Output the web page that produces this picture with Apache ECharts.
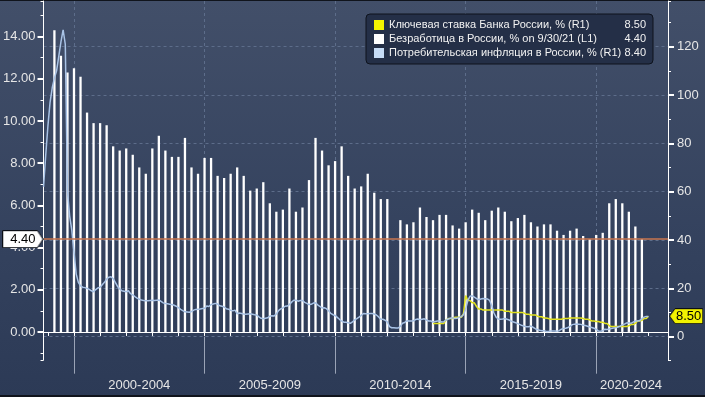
<!DOCTYPE html>
<html>
<head>
<meta charset="utf-8">
<script src="https://cdn.jsdelivr.net/npm/echarts@6/dist/echarts.min.js"></script>
<style>
html, body { margin: 0; padding: 0; background: #2c3a56; }
#chart {
  width: 705px; height: 397px;
  background: linear-gradient(to bottom, #424f69 0%, #34425e 60%, #2c3a56 100%);
  box-shadow: inset 0 1px 0 #10141c, inset 0 -2px 0 #10141c;
}
</style>
</head>
<body>
<div id="chart"></div>
<script>
// ось X: месяцы с 1998-10 по 2022-09
const firstMonth = [1998, 10];
const monthCount = 288;
const months = [];
for (let i = 0; i < monthCount; i++) {
  const m = firstMonth[1] - 1 + i;
  const y = firstMonth[0] + Math.floor(m / 12);
  const mm = m % 12 + 1;
  months.push(y + '-' + (mm < 10 ? '0' + mm : mm));
}

// подписи пятилетних интервалов
const bandLabels = ['2000-2004', '2005-2009', '2010-2014', '2015-2019', '2020-2024'];
const bandLabelMonths = ['2002-06', '2007-06', '2012-06', '2017-06', '2021-04'];
const bandStarts = ['1999-12', '2004-12', '2009-12', '2014-12', '2019-12'];

// Потребительская инфляция, % г/г (помесячно с 1998-10)
const inflationStart = '1998-10';
const inflation = [
  62, 75, 87,
  97, 103, 107, 110, 116, 122, 127, 121, 60, 50, 44, 35,
  26, 22.5, 21, 20.5, 20.3, 20, 19.6, 19, 18.6, 19.5, 20.2, 20.5,
  21.5, 22.5, 23.8, 24.6, 24.8, 24, 22.5, 20.8, 19.8, 19, 18.8, 18.6,
  19, 17.8, 17.3, 16.6, 16, 15.5, 15.2, 15, 14.9, 14.9, 15, 15.1,
  15, 15.1, 15.2, 14.6, 14, 13.7, 13.6, 13.4, 13.3, 13, 12.6, 12,
  11.3, 10.8, 10.3, 10.2, 10.1, 10.4, 11, 11.3, 11.4, 11.5, 11.7, 11.7,
  12.7, 12.5, 13.3, 13.5, 13.8, 13.5, 12.8, 12.6, 12.3, 11.6, 11.4, 10.9,
  10.7, 11, 9.5, 9.8, 9.6, 9.4, 9.3, 9.4, 9.5, 9.3, 9.1, 9,
  8.2, 7.6, 7.4, 7.6, 7.8, 8.5, 8.7, 8.6, 9.4, 10.8, 11.5, 11.9,
  12.6, 12.7, 13.3, 14.3, 15.1, 15.1, 14.7, 15, 15, 14.2, 13.8, 13.3,
  13.4, 13.9, 14, 13.2, 12.5, 11.9, 12, 11.6, 10.7, 9.7, 9.1, 8.8,
  8, 7.2, 6.5, 6, 6, 5.8, 5.5, 6.1, 7, 7.5, 8.1, 8.8,
  9.6, 9.5, 9.5, 9.6, 9.6, 9.4, 9, 8.2, 7.2, 7.2, 6.8, 6.1,
  4.2, 3.7, 3.7, 3.6, 3.6, 4.3, 5.6, 5.9, 6.6, 6.5, 6.5, 6.6,
  7.1, 7.3, 7, 7.2, 7.4, 6.9, 6.5, 6.5, 6.1, 6.3, 6.5, 6.5,
  6.1, 6.2, 6.9, 7.3, 7.6, 7.8, 7.5, 7.6, 8, 8.3, 9.1, 11.4,
  15, 16.7, 16.9, 16.4, 15.8, 15.3, 15.6, 15.8, 15.7, 15.6, 15, 12.9,
  9.8, 8.1, 7.3, 7.2, 7.3, 7.5, 7.2, 6.9, 6.4, 6.1, 5.8, 5.4,
  5, 4.6, 4.3, 4.1, 4.1, 4.4, 3.9, 3.3, 3, 2.7, 2.5, 2.5,
  2.2, 2.2, 2.4, 2.4, 2.4, 2.3, 2.5, 3.1, 3.4, 3.5, 3.8, 4.3,
  5, 5.2, 5.3, 5.2, 5.1, 4.7, 4.6, 4.3, 4, 3.8, 3.5, 3,
  2.4, 2.3, 2.5, 3.1, 3, 3.2, 3.4, 3.6, 3.7, 4, 4.4, 4.9,
  5.2, 5.7, 5.8, 5.5, 6, 6.5, 6.5, 6.7, 7.4, 8.1, 8.4, 8.4
];

// Ключевая ставка ЦБ, % (помесячно с 2013-09)
const keyRateStart = '2013-09';
const keyRate = [
  5.5, 5.5, 5.5, 5.5,
  5.5, 5.5, 7, 7.5, 7.5, 7.5, 8, 8, 8, 8, 9.5, 17,
  15, 15, 14, 14, 12.5, 11.5, 11.5, 11, 11, 11, 11, 11,
  11, 11, 11, 11, 11, 10.5, 10.5, 10.5, 10, 10, 10, 10,
  10, 10, 9.75, 9.25, 9.25, 9, 9, 9, 8.5, 8.25, 8.25, 7.75,
  7.75, 7.5, 7.25, 7.25, 7.25, 7.25, 7.25, 7.25, 7.5, 7.5, 7.5, 7.75,
  7.75, 7.75, 7.75, 7.75, 7.75, 7.5, 7.25, 7.25, 7, 6.5, 6.5, 6.25,
  6.25, 6, 6, 5.5, 5.5, 4.5, 4.25, 4.25, 4.25, 4.25, 4.25, 4.25,
  4.25, 4.25, 4.5, 5, 5, 5.5, 6.5, 6.5, 6.75, 7.5, 7.5, 8.5
];

// Безработица, % (поквартально с 1 кв. 1999, конец квартала)
const unempStart = '1999-03';
const unemployment = [
  14.3, 13.1, 12.3, 12.5,
  12.1, 10.4, 9.9, 9.9,
  9.8, 8.8, 8.6, 8.7,
  8.4, 7.8, 7.5, 8.7,
  9.3, 8.6, 8.3, 8.3,
  9.2, 7.8, 7.5, 8.25,
  8.25, 7.4, 7.3, 7.5,
  7.8, 7.4, 6.7, 6.8,
  7.1, 6.1, 5.7, 5.8,
  6.8, 5.7, 5.9, 7.2,
  9.2, 8.6, 7.9, 8.1,
  8.8, 7.4, 6.8, 6.9,
  7.5, 6.6, 6.3, 6.3,
  null, 5.3, 5.1, 5.2,
  5.9, 5.45, 5.3, 5.55,
  5.55, 5.05, 4.9, 5.2,
  5.8, 5.65, 5.3, 5.75,
  5.9, 5.7, 5.25, 5.4,
  5.55, 5.2, 5.0, 5.1,
  5.1, 4.8, 4.6, 4.8,
  4.9, 4.55, 4.4, 4.6,
  4.7, 6.1, 6.3, 6.1,
  5.7, 5.0, 4.4
];

const nameKey = 'Ключевая ставка Банка России, % (R1)';
const nameUnemp = 'Безработица в России, % on 9/30/21 (L1)';
const nameInfl = 'Потребительская инфляция в России, % (R1)';

const lastKey = keyRate[keyRate.length - 1];
const lastUnemp = unemployment[unemployment.length - 1];
const lastInfl = inflation[inflation.length - 1];
const legendValues = {};
legendValues[nameKey] = lastKey.toFixed(2);
legendValues[nameUnemp] = lastUnemp.toFixed(2);
legendValues[nameInfl] = lastInfl.toFixed(2);

// раскладываем ряды по месячной оси
const inflIdx = months.indexOf(inflationStart);
const keyIdx = months.indexOf(keyRateStart);
const unempIdx = months.indexOf(unempStart);
const inflData = months.map((m, i) => {
  const k = i - inflIdx;
  return k >= 0 && k < inflation.length ? inflation[k] : null;
});
const keyData = months.map((m, i) => {
  const k = i - keyIdx;
  return k >= 0 && k < keyRate.length ? keyRate[k] : null;
});
const unempData = months.map((m, i) => {
  const k = i - unempIdx;
  return k >= 0 && k % 3 === 0 && k / 3 < unemployment.length ? unemployment[k / 3] : null;
});

// пределы осей (0 левой и 0 правой шкалы не совпадают)
const leftMin = -1.33, leftMax = 15.69;
const rightMin = -9.64, rightMax = 138.9;

// ярлык-флажок для последних значений
function makeTag(w, h, fill, pointRight) {
  const c = document.createElement('canvas');
  c.width = w; c.height = h;
  const g = c.getContext('2d');
  const p = 6;
  g.beginPath();
  if (pointRight) {
    g.moveTo(0.5, 0.5); g.lineTo(w - p, 0.5); g.lineTo(w - 0.5, h / 2);
    g.lineTo(w - p, h - 0.5); g.lineTo(0.5, h - 0.5);
  } else {
    g.moveTo(p, 0.5); g.lineTo(w - 0.5, 0.5); g.lineTo(w - 0.5, h - 0.5);
    g.lineTo(p, h - 0.5); g.lineTo(0.5, h / 2);
  }
  g.closePath();
  g.fillStyle = fill; g.fill();
  g.strokeStyle = '#0c0f16'; g.lineWidth = 1; g.stroke();
  return c;
}

const fontFamily = '"Liberation Sans", Arial, sans-serif';
const labelColor = '#e6e6e6';
const gridColor = '#5d6d8a';

const myChart = echarts.init(document.getElementById('chart'), null, { renderer: 'canvas' });
myChart.setOption({
  animation: false,
  backgroundColor: 'transparent',
  textStyle: { fontFamily: fontFamily },
  grid: { left: 41, right: 37, top: 1, bottom: 37 },
  legend: {
    orient: 'vertical',
    left: 366, top: 14,
    backgroundColor: '#242f47',
    borderColor: '#0e131d', borderWidth: 1, borderRadius: 4,
    padding: [5, 7, 5, 8],
    itemWidth: 10, itemHeight: 10, itemGap: 2, itemTextGap: 5,
    icon: 'rect',
    selectedMode: false,
    data: [
      { name: nameKey, itemStyle: { color: '#f4f400' } },
      { name: nameUnemp, itemStyle: { color: '#ffffff' } },
      { name: nameInfl, itemStyle: { color: '#c6dcf6' } }
    ],
    formatter: name => '{n|' + name + '}{v|' + legendValues[name] + '}',
    textStyle: {
      color: '#f2f2f2', fontSize: 11, lineHeight: 12,
      rich: {
        n: { width: 230, fontSize: 11, color: '#f2f2f2', fontFamily: fontFamily },
        v: { width: 27, align: 'right', fontSize: 11, color: '#f2f2f2', fontFamily: fontFamily }
      }
    }
  },
  xAxis: [
    {
      type: 'category', data: months, boundaryGap: false,
      axisLine: { lineStyle: { color: '#ffffff', width: 1 } },
      axisTick: { interval: (i, v) => v.endsWith('-12'), length: 4, lineStyle: { color: '#ffffff' } },
      axisLabel: { show: false },
      splitLine: { show: false }
    },
    {
      type: 'category', data: months, boundaryGap: false, position: 'bottom',
      axisLine: { show: false },
      axisTick: { interval: (i, v) => bandStarts.includes(v), length: 37, lineStyle: { color: '#9aa3b6' } },
      axisLabel: {
        interval: (i, v) => bandLabelMonths.includes(v),
        formatter: v => bandLabels[bandLabelMonths.indexOf(v)],
        margin: 19, color: labelColor, fontSize: 13
      },
      splitLine: { show: true, interval: (i, v) => bandStarts.includes(v), lineStyle: { color: gridColor, type: [3, 3] } }
    }
  ],
  yAxis: [
    {
      type: 'value', position: 'left', min: leftMin, max: leftMax, minInterval: 2, maxInterval: 2,
      axisLine: { show: true, lineStyle: { color: '#ffffff' } },
      axisTick: { show: true, length: 6, lineStyle: { color: '#ffffff', width: 2 } },
      axisLabel: { margin: 8, color: labelColor, fontSize: 13, showMinLabel: false, showMaxLabel: false,
        formatter: v => v.toFixed(2) },
      splitLine: { show: false }
    },
    {
      type: 'value', position: 'right', min: rightMin, max: rightMax, minInterval: 20, maxInterval: 20,
      axisLine: { show: true, lineStyle: { color: '#ffffff' } },
      axisTick: { show: true, length: 6, lineStyle: { color: '#ffffff', width: 2 } },
      axisLabel: { margin: 9, color: labelColor, fontSize: 13, showMinLabel: false, showMaxLabel: false,
        formatter: v => String(v) },
      splitLine: { show: true, showMinLine: false, showMaxLine: false, lineStyle: { color: gridColor, type: [3, 3] } }
    },
    {
      // мелкие деления левой шкалы
      type: 'value', position: 'left', min: leftMin, max: leftMax, minInterval: 1, maxInterval: 1,
      axisLine: { show: false }, axisLabel: { show: false }, splitLine: { show: false },
      axisTick: { show: true, length: 3, lineStyle: { color: '#ffffff' } }
    },
    {
      // мелкие деления правой шкалы
      type: 'value', position: 'right', min: rightMin, max: rightMax, minInterval: 10, maxInterval: 10,
      axisLine: { show: false }, axisLabel: { show: false }, splitLine: { show: false },
      axisTick: { show: true, length: 3, lineStyle: { color: '#ffffff' } }
    }
  ],
  series: [
    {
      name: nameKey, type: 'line', yAxisIndex: 1, data: keyData,
      symbol: 'none', showSymbol: false,
      lineStyle: { color: '#e2e21e', width: 1.5 }, itemStyle: { color: '#e2e21e' },
      markLine: {
        silent: true, symbol: 'none', z: 10,
        data: [{ yAxis: lastKey }],
        lineStyle: { color: 'rgba(0,0,0,0)', width: 1, type: 'solid' },
        label: {
          show: true, position: 'end', distance: 1, opacity: 1,
          formatter: p => p.value.toFixed(2),
          color: '#000000', fontSize: 13, lineHeight: 13, fontFamily: fontFamily,
          textBorderWidth: 0,
          padding: [2, 2, 1, 7],
          backgroundColor: { image: makeTag(34, 16, '#f2f200', false) }
        }
      }
    },
    {
      name: nameUnemp, type: 'bar', yAxisIndex: 0, data: unempData,
      barWidth: 2.3, itemStyle: { color: '#ffffff' },
      markLine: {
        silent: true, symbol: 'none', z: 10,
        data: [{ yAxis: lastUnemp }],
        lineStyle: { color: '#c9764f', width: 1.5, type: 'solid' },
        label: {
          position: 'start', distance: 0,
          formatter: p => p.value.toFixed(2),
          color: '#000000', fontSize: 13, lineHeight: 13, fontFamily: fontFamily,
          padding: [3, 8, 2, 8],
          backgroundColor: { image: makeTag(41, 18, '#ffffff', true) }
        }
      }
    },
    {
      name: nameInfl, type: 'line', yAxisIndex: 1, data: inflData,
      symbol: 'none', showSymbol: false,
      lineStyle: { color: '#a9c3e6', width: 1.5 }, itemStyle: { color: '#a9c3e6' }
    }
  ]
});
</script>
</body>
</html>
